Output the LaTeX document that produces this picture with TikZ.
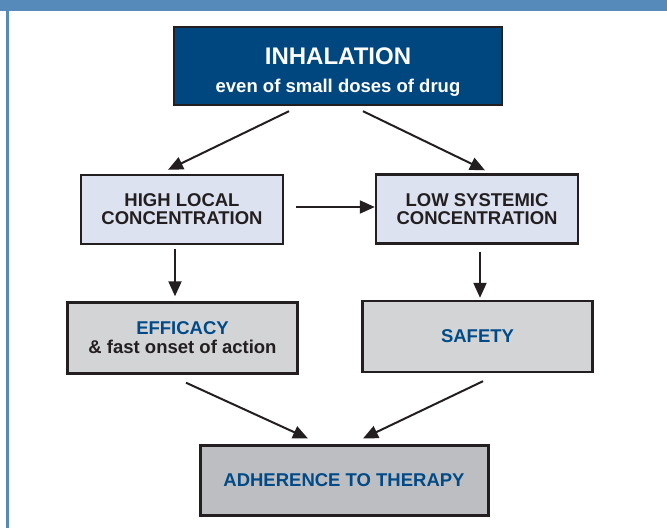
\documentclass[tikz,border=0pt]{standalone}
\usepackage{fontspec}
\setmainfont{Liberation Sans}
\usetikzlibrary{arrows.meta}
\definecolor{band}{RGB}{86,138,186}
\definecolor{navy}{RGB}{0,70,127}
\definecolor{pale}{RGB}{221,226,240}
\definecolor{lgrey}{RGB}{211,212,214}
\definecolor{dgrey}{RGB}{188,190,193}
\definecolor{ink}{RGB}{35,31,32}
\definecolor{bluetxt}{RGB}{0,74,135}

\begin{document}
\begin{tikzpicture}[x=1pt, y=-1pt,
	box/.style={draw=ink, line width=2.4pt, inner sep=0pt, align=center, font=\bfseries\fontsize{18.5}{18}\selectfont, text=ink},
	navybox/.style={box, fill=navy, text=white, minimum width=328pt, minimum height=78pt},
	palebox/.style={box, fill=pale, minimum width=202pt, minimum height=69pt},
	greybox/.style={box, fill=lgrey, minimum width=230pt, minimum height=71pt},
	darkbox/.style={box, fill=dgrey, line width=3pt, minimum width=288pt, minimum height=70pt, text=bluetxt},
	arr/.style={draw=ink, line width=2pt, -{Triangle[length=15pt,width=13pt]}}]
	\useasboundingbox (0,0) rectangle (667,528);
	\fill[band] (0,0) rectangle (667,11);
	\fill[band] (6,11) rectangle (9,528);
	% boxes
	\node[navybox] (inh) at (338,66) {\rule{0pt}{28pt}{\fontsize{24}{27}\selectfont INHALATION}\\[10pt]even of small doses of drug};
	\node[palebox] (loc) at (182,209.5) {HIGH LOCAL\\CONCENTRATION};
	\node[palebox] (sys) at (477,209) {LOW SYSTEMIC\\CONCENTRATION};
	\node[greybox] (eff) at (182.5,338) {\textcolor{bluetxt}{EFFICACY}\\[1pt]\& fast onset of action};
	\node[greybox] (saf) at (477.5,336.5) {\textcolor{bluetxt}{SAFETY}};
	\node[darkbox] (adh) at (344,480) {ADHERENCE TO THERAPY};
	% arrows
	\draw[arr] ([xshift=-49pt,yshift=-5pt]inh.south) -- ([xshift=-14pt,yshift=4pt]loc.north);
	\draw[arr] ([xshift=25pt,yshift=-5pt]inh.south) -- ([xshift=8pt,yshift=3pt]sys.north);
	\draw[arr] ([xshift=12pt,yshift=2.5pt]loc.east) -- ([yshift=2pt]sys.west);
	\draw[arr] ([xshift=-7pt,yshift=-4pt]loc.south) -- ([xshift=-7.5pt,yshift=5pt]eff.north);
	\draw[arr] ([xshift=3pt,yshift=-7pt]sys.south) -- ([xshift=2.5pt,yshift=2pt]saf.north);
	\draw[arr] ([xshift=3.5pt,yshift=-8pt]eff.south) -- ([xshift=-36pt,yshift=5pt]adh.north);
	\draw[arr] ([xshift=5.5pt,yshift=-8pt]saf.south) -- ([xshift=19pt,yshift=5pt]adh.north);
\end{tikzpicture}
\end{document}
